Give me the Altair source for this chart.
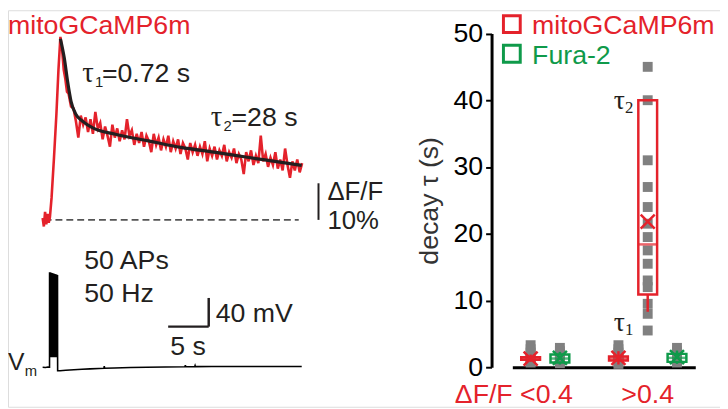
import altair as alt
import pandas as pd

# ---------------- colours / fonts ----------------
RED = "#e4222b"
GREEN = "#0f9a4a"
GRAY = "#808080"
INK = "#231f20"
SANS = "Liberation Sans"
SERIF = "Liberation Serif"
FS = 27

# ---------------- left panel data ----------------
# mitoGCaMP6m dF/F (%) vs time (s); 0 = stimulus onset
dff_t = [-0.85, -0.7, -0.55, -0.4, -0.25, -0.1, 0.05, 0.25, 0.55, 0.85, 1.1, 1.34,
         1.55, 1.75, 1.95, 2.15, 2.35,
         2.65, 2.95, 3.25, 3.55, 3.85, 4.15, 4.45, 4.75, 5.05, 5.35,
         5.65, 5.95, 6.25, 6.55, 6.85, 7.15, 7.45, 7.75, 8.05, 8.35,
         8.65, 8.95, 9.25, 9.55, 9.85, 10.15, 10.45, 10.75, 11.05, 11.35,
         11.65, 11.95, 12.25, 12.55, 12.85, 13.15, 13.45, 13.75, 14.05, 14.35,
         14.65, 14.95, 15.25, 15.55, 15.85, 16.15, 16.45, 16.75, 17.05, 17.35,
         17.65, 17.95, 18.25, 18.55, 18.85, 19.15, 19.45, 19.75, 20.05, 20.35,
         20.65, 20.95, 21.25, 21.55, 21.85, 22.15, 22.45, 22.75, 23.05, 23.35,
         23.65, 23.95, 24.25, 24.55, 24.85, 25.15, 25.45, 25.75, 26.05, 26.35,
         26.65, 26.95, 27.25, 27.55, 27.85, 28.15, 28.45, 28.75, 29.05, 29.35,
         29.65, 29.95, 30.25, 30.55, 30.85, 31.15]
dff_v = [0.5, -1.8, 2.2, -1.2, 1.6, -0.8, 0.8, 6.0, 17.0, 29.0, 41.0, 50.0,
         46.5, 41.0, 38.5, 35.0, 34.5,
         31.0, 30.5, 27.0, 22.5, 28.5, 26.0, 28.0, 24.0, 27.5, 23.5,
         29.5, 25.0, 26.5, 22.0, 25.5, 23.0, 20.0, 26.0, 22.5, 25.0,
         21.5, 24.5, 22.0, 27.5, 23.0, 24.5, 20.5, 23.5, 21.0, 24.0,
         20.0, 23.0, 21.5, 18.5, 23.5, 20.5, 22.5, 19.0, 22.0, 20.0,
         23.0, 18.5, 21.5, 19.5, 22.0, 18.0, 21.0, 19.5, 16.5, 21.0,
         18.5, 20.5, 17.5, 20.0, 18.0, 21.5, 16.0, 19.5, 17.5, 20.0,
         16.5, 19.0, 17.5, 20.5, 16.0, 18.5, 17.0, 19.5, 15.5, 18.0,
         16.5, 12.5, 18.5, 16.0, 19.0, 15.0, 17.5, 15.5, 23.0, 16.0,
         18.0, 14.5, 17.0, 15.0, 18.5, 14.0, 16.5, 13.5, 19.5, 15.0,
         11.5, 16.0, 13.5, 16.5, 13.0, 15.5]

# bi-exponential fit
fit_t = [1.34, 1.83, 2.23, 2.65, 3.26, 4.06, 5.28, 8.13, 12.2, 16.2, 20.3, 24.4, 28.4, 31.1]
fit_v = [49.5, 44.1, 37.8, 32.4, 28.8, 27.0, 25.2, 23.4, 21.6, 19.8, 18.5, 17.1, 15.8, 14.9]

baseline_span = [-0.61, 30.73]          # dashed zero line, s
dff_bar = [33.17, 0.0, 10.0]            # t, from %, to %

# membrane potential (mV)
vm_pre_t = [-0.85, -0.5, -0.2, 0.0]
vm_pre_v = [-70.0, -70.3, -69.8, -70.0]
ap_rate_hz = 50
ap_peak = [62.5, 62.4, 62.3, 62.3, 62.2, 62.1, 62.0, 61.9, 61.9, 61.8,
           61.7, 61.6, 61.5, 61.5, 61.4, 61.3, 61.2, 61.1, 61.1, 61.0,
           60.9, 60.8, 60.7, 60.7, 60.6, 60.5, 60.4, 60.3, 60.3, 60.2,
           60.1, 60.0, 59.9, 59.9, 59.8, 59.7, 59.6, 59.5, 59.5, 59.4,
           59.3, 59.2, 59.1, 59.1, 59.0, 58.9, 58.8, 58.7, 58.7, 58.6]
ap_trough = [-56.0, -55.5, -55.8, -56.2, -55.6, -55.9, -56.1, -55.7, -56.0, -55.8,
             -56.2, -55.9, -56.0, -55.6, -56.1, -55.8, -56.0, -55.7, -56.2, -55.9,
             -56.0, -55.8, -56.1, -55.7, -56.0, -55.9, -56.2, -55.8, -56.0, -55.7,
             -56.1, -55.9, -56.0, -55.8, -56.2, -55.7, -56.0, -55.9, -56.1, -55.8,
             -56.0, -55.7, -56.2, -55.9, -56.0, -55.8, -56.1, -55.9, -56.0, -57.0]
vm_post_t = [1.0, 1.3, 2.0, 3.0, 4.0, 5.0, 6.1, 6.7, 6.75, 6.8, 8.0, 10.0, 12.0, 14.3,
             16.7, 16.75, 16.8, 17.9, 17.95, 18.0, 20.0, 23.0, 26.0, 28.5, 31.1]
vm_post_v = [-75.0, -75.0, -74.3, -73.5, -72.8, -72.3, -71.8, -71.5, -68.5, -71.5, -71.0, -70.5,
             -70.0, -69.6, -69.3, -67.0, -69.3, -69.2, -67.5, -69.2, -69.1, -69.0, -69.1, -69.0, -69.0]
time_bar = [14.63, 19.63, -13.4]        # t from, t to, at mV
volt_bar = [19.63, -13.4, 26.6]         # at t, from mV, to mV

# ---------------- right panel data ----------------
slots = ["<0.4 mito", "<0.4 fura", "gap", ">0.4 τ1", ">0.4 τ2", ">0.4 fura"]
sq_lt_mito = [0.7, 0.9, 1.1, 1.3, 1.5, 1.8, 2.2, 2.7, 3.3]
sq_lt_fura = [0.6, 0.9, 1.1, 1.3, 1.6, 2.0, 2.4, 2.9]
sq_gt_tau1 = [0.5, 0.8, 1.0, 1.2, 1.5, 1.8, 2.2, 2.7, 3.3]
sq_gt_tau2 = [45, 40, 31, 27, 24, 21.5, 19.5, 17.5, 15.5, 13, 12, 9.5, 8, 5.5]
sq_gt_fura = [0.7, 1.0, 1.2, 1.4, 1.7, 2.0, 2.4, 2.9]

box_slot = ["<0.4 mito", "<0.4 fura", ">0.4 τ1", ">0.4 τ2", ">0.4 fura"]
box_sensor = ["mitoGCaMP6m", "Fura-2", "mitoGCaMP6m", "mitoGCaMP6m", "Fura-2"]
box_q1 = [1.1, 0.7, 1.0, 10.9, 0.8]
box_med = [1.3, 1.3, 1.3, 18.4, 1.4]
box_q3 = [1.5, 1.9, 1.6, 40.0, 2.0]
box_mean = [1.3, 1.4, 1.4, 21.8, 1.5]
box_lo = [0.8, 0.4, 0.4, 8.3, 0.5]
box_hi = [1.9, 2.3, 2.4, 40.0, 2.5]

sensors = ["mitoGCaMP6m", "Fura-2"]
sensor_colors = [RED, GREEN]

# ---------------- tables ----------------
assert len(dff_t) == len(dff_v)
dff_df = pd.DataFrame({"t": dff_t, "v": dff_v})
fit_df = pd.DataFrame({"t": fit_t, "v": fit_v})

vm_t, vm_v = list(vm_pre_t), list(vm_pre_v)
for k, (pk, tr) in enumerate(zip(ap_peak, ap_trough)):
    t0 = k / ap_rate_hz
    vm_t += [t0 + 0.004, t0 + 0.014]
    vm_v += [pk, tr]
vm_t += vm_post_t
vm_v += vm_post_v
vm_df = pd.DataFrame({"t": vm_t, "v": vm_v, "i": range(len(vm_t))})

sq_df = pd.concat([
    pd.DataFrame({"slot": s, "v": vals})
    for s, vals in [("<0.4 mito", sq_lt_mito), ("<0.4 fura", sq_lt_fura),
                    (">0.4 τ1", sq_gt_tau1), (">0.4 τ2", sq_gt_tau2),
                    (">0.4 fura", sq_gt_fura)]
])
box_df = pd.DataFrame({"slot": box_slot, "sensor": box_sensor, "q1": box_q1,
                       "med": box_med, "q3": box_q3, "mean": box_mean,
                       "lo": box_lo, "hi": box_hi})

# ---------------- scales ----------------
t_scale = alt.Scale(domain=[0, 30], range=[42, 288], nice=False, zero=False)
dff_scale = alt.Scale(domain=[0, 50], range=[212, 27], nice=False, zero=False)
vm_scale = alt.Scale(domain=[-70, 40], range=[361, 281.25], nice=False, zero=False)
tau_scale = alt.Scale(domain=[0, 50], range=[361, 23.5], nice=False, zero=False)
slot_scale = alt.Scale(type="point", domain=slots, range=[510, 695], padding=0.625)
col_scale = alt.Scale(domain=sensors, range=sensor_colors)


def xt(f="t"):
    return alt.X(f"{f}:Q", scale=t_scale, axis=None)


def yd(f="v"):
    return alt.Y(f"{f}:Q", scale=dff_scale, axis=None)


def yv(f="v"):
    return alt.Y(f"{f}:Q", scale=vm_scale, axis=None)


def xs(f="slot"):
    return alt.X(f"{f}:N", scale=slot_scale, axis=None)


def ytau(f="v"):
    return alt.Y(f"{f}:Q", scale=tau_scale, axis=None)


def label(text, x, y, ychan, xchan=xt, size=FS, font=SANS, color=INK, align="left", dx=0, dy=0):
    df = pd.DataFrame({"x": [x], "y": [y], "s": [text]})
    return alt.Chart(df).mark_text(font=font, fontSize=size, color=color, align=align,
                                   baseline="alphabetic", dx=dx, dy=dy).encode(
        x=xchan("x"), y=ychan("y"), text="s:N")


layers = []

# ---- left: fluorescence ----
layers.append(alt.Chart(pd.DataFrame({"t": [baseline_span[0]], "t2": [baseline_span[1]], "v": [0.0]}))
              .mark_rule(color="#555555", strokeWidth=1.6, strokeDash=[7, 4])
              .encode(x=xt("t"), x2="t2:Q", y=yd("v")))
layers.append(alt.Chart(dff_df).mark_line(color=RED, strokeWidth=2.6, strokeJoin="miter")
              .encode(x=xt(), y=yd()))
layers.append(alt.Chart(fit_df).mark_line(color=INK, strokeWidth=3.2, interpolate="monotone")
              .encode(x=xt(), y=yd()))
layers.append(alt.Chart(pd.DataFrame({"t": [dff_bar[0]], "v": [dff_bar[1]], "v2": [dff_bar[2]]}))
              .mark_rule(color=INK, strokeWidth=2)
              .encode(x=xt("t"), y=yd("v"), y2="v2:Q"))
layers.append(label("ΔF/F", 34.27, 5.4, yd, size=26))
layers.append(label("10%", 34.27, -2.43, yd, size=26))
layers.append(label("τ", 4.02, 37.8, yd, font=SERIF, size=29))
layers.append(label("1", 4.02, 37.8, yd, size=15, dx=13, dy=5))
layers.append(label("=0.72 s", 4.02, 37.8, yd, dx=20))
layers.append(label("τ", 19.88, 25.7, yd, font=SERIF, size=29))
layers.append(label("2", 19.88, 25.7, yd, size=15, dx=13, dy=5))
layers.append(label("=28 s", 19.88, 25.7, yd, dx=21))
layers.append(alt.Chart(pd.DataFrame({"s": ["mitoGCaMP6m"]}))
              .mark_text(font=SANS, fontSize=FS, color=RED, align="left", baseline="alphabetic")
              .encode(x=alt.value(0), y=alt.value(24), text="s:N"))

# ---- left: membrane potential ----
layers.append(alt.Chart(vm_df).mark_line(color="black", strokeWidth=1.6)
              .encode(x=xt(), y=yv(), order="i:Q"))
layers.append(alt.Chart(pd.DataFrame({"t": [time_bar[0]], "t2": [time_bar[1]], "v": [time_bar[2]]}))
              .mark_rule(color=INK, strokeWidth=2.5)
              .encode(x=xt("t"), x2="t2:Q", y=yv("v")))
layers.append(alt.Chart(pd.DataFrame({"t": [volt_bar[0]], "v": [volt_bar[1]], "v2": [volt_bar[2]]}))
              .mark_rule(color=INK, strokeWidth=2.5)
              .encode(x=xt("t"), y=yv("v"), y2="v2:Q"))
layers.append(label("50 APs", 4.27, 66.6, yv))
layers.append(label("50 Hz", 4.27, 21.4, yv))
layers.append(label("40 mV", 20.49, -6.6, yv))
layers.append(label("5 s", 14.88, -53.0, yv))
layers.append(label("V", 0, -74.1, yv, xchan=lambda f: alt.value(0), size=25))
layers.append(label("m", 0, -74.1, yv, xchan=lambda f: alt.value(17), size=15, dy=6))

# ---- right: decay time constants ----
layers.append(alt.Chart(sq_df).mark_point(shape="square", filled=True, size=100, color=GRAY, opacity=1)
              .encode(
                  x=alt.X("slot:N", scale=slot_scale,
                          axis=alt.Axis(orient="bottom", offset=-40, labels=False, ticks=False,
                                        domainColor="black", domainWidth=3, title=None, grid=False)),
                  y=alt.Y("v:Q", scale=tau_scale,
                          axis=alt.Axis(orient="left", offset=-489, values=[0, 10, 20, 30, 40, 50],
                                        grid=False, domainColor="black", domainWidth=3,
                                        tickColor="black", tickWidth=2, tickSize=6,
                                        labelFont=SANS, labelFontSize=FS, labelColor="black",
                                        labelPadding=3, title="decay τ (s)", titleFont=SANS,
                                        titleFontSize=FS, titleFontWeight="normal",
                                        titleColor="#333333", titlePadding=10))))
col = alt.Color("sensor:N", scale=col_scale, legend=None)
layers.append(alt.Chart(box_df).mark_bar(filled=False, size=19, strokeWidth=2.5, fillOpacity=0)
              .encode(x=xs(), y=ytau("q1"), y2="q3:Q", color=col))
layers.append(alt.Chart(box_df).mark_rule(strokeWidth=2.5)
              .encode(x=xs(), y=ytau("lo"), y2="q1:Q", color=col))
layers.append(alt.Chart(box_df).mark_rule(strokeWidth=2.5)
              .encode(x=xs(), y=ytau("q3"), y2="hi:Q", color=col))
layers.append(alt.Chart(box_df).mark_tick(size=19, thickness=2.5)
              .encode(x=xs(), y=ytau("med"), color=col))
layers.append(alt.Chart(box_df).mark_point(shape="M-1,-1L1,1M-1,1L1,-1", filled=False,
                                           size=200, strokeWidth=2.5, opacity=1)
              .encode(x=xs(), y=ytau("mean"), color=col))

# tau labels in the right panel
layers.append(label("τ", ">0.4 τ2", 38.7, ytau, xchan=xs, font=SERIF, size=28, align="right", dx=-23))
layers.append(label("2", ">0.4 τ2", 38.7, ytau, xchan=xs, font=SERIF, size=17, dx=-23, dy=4))
layers.append(label("τ", ">0.4 τ2", 5.4, ytau, xchan=xs, font=SERIF, size=28, align="right", dx=-23))
layers.append(label("1", ">0.4 τ2", 5.4, ytau, xchan=xs, font=SERIF, size=17, dx=-23, dy=4))

# group labels
layers.append(alt.Chart(pd.DataFrame({"slot": ["<0.4 fura"], "s": ["ΔF/F <0.4"]}))
              .mark_text(font=SANS, fontSize=FS, color=RED, align="right", baseline="alphabetic", dx=13)
              .encode(x=xs(), y=alt.value(397), text="s:N"))
layers.append(alt.Chart(pd.DataFrame({"slot": [">0.4 τ2"], "s": [">0.4"]}))
              .mark_text(font=SANS, fontSize=FS, color=RED, align="center", baseline="alphabetic")
              .encode(x=xs(), y=alt.value(397), text="s:N"))

# legend
for s, c, ypos in zip(sensors, sensor_colors, [14, 44]):
    d = pd.DataFrame({"s": [s]})
    layers.append(alt.Chart(d).mark_point(shape="square", filled=False, size=289, strokeWidth=3,
                                          color=c, opacity=1)
                  .encode(x=alt.value(509.5), y=alt.value(ypos)))
    layers.append(alt.Chart(d).mark_text(font=SANS, fontSize=FS, color=c, align="left",
                                         baseline="alphabetic")
                  .encode(x=alt.value(530), y=alt.value(ypos + 10), text="s:N"))

chart = (alt.layer(*layers)
         .resolve_scale(x="independent", y="independent")
         .properties(width=720, height=401, padding=0,
                     autosize=alt.AutoSizeParams(type="none"))
         .configure_view(stroke=None)
         .configure(font=SANS, background="white"))

chart.save("out.html", embed_options={"renderer": "svg", "actions": False})
